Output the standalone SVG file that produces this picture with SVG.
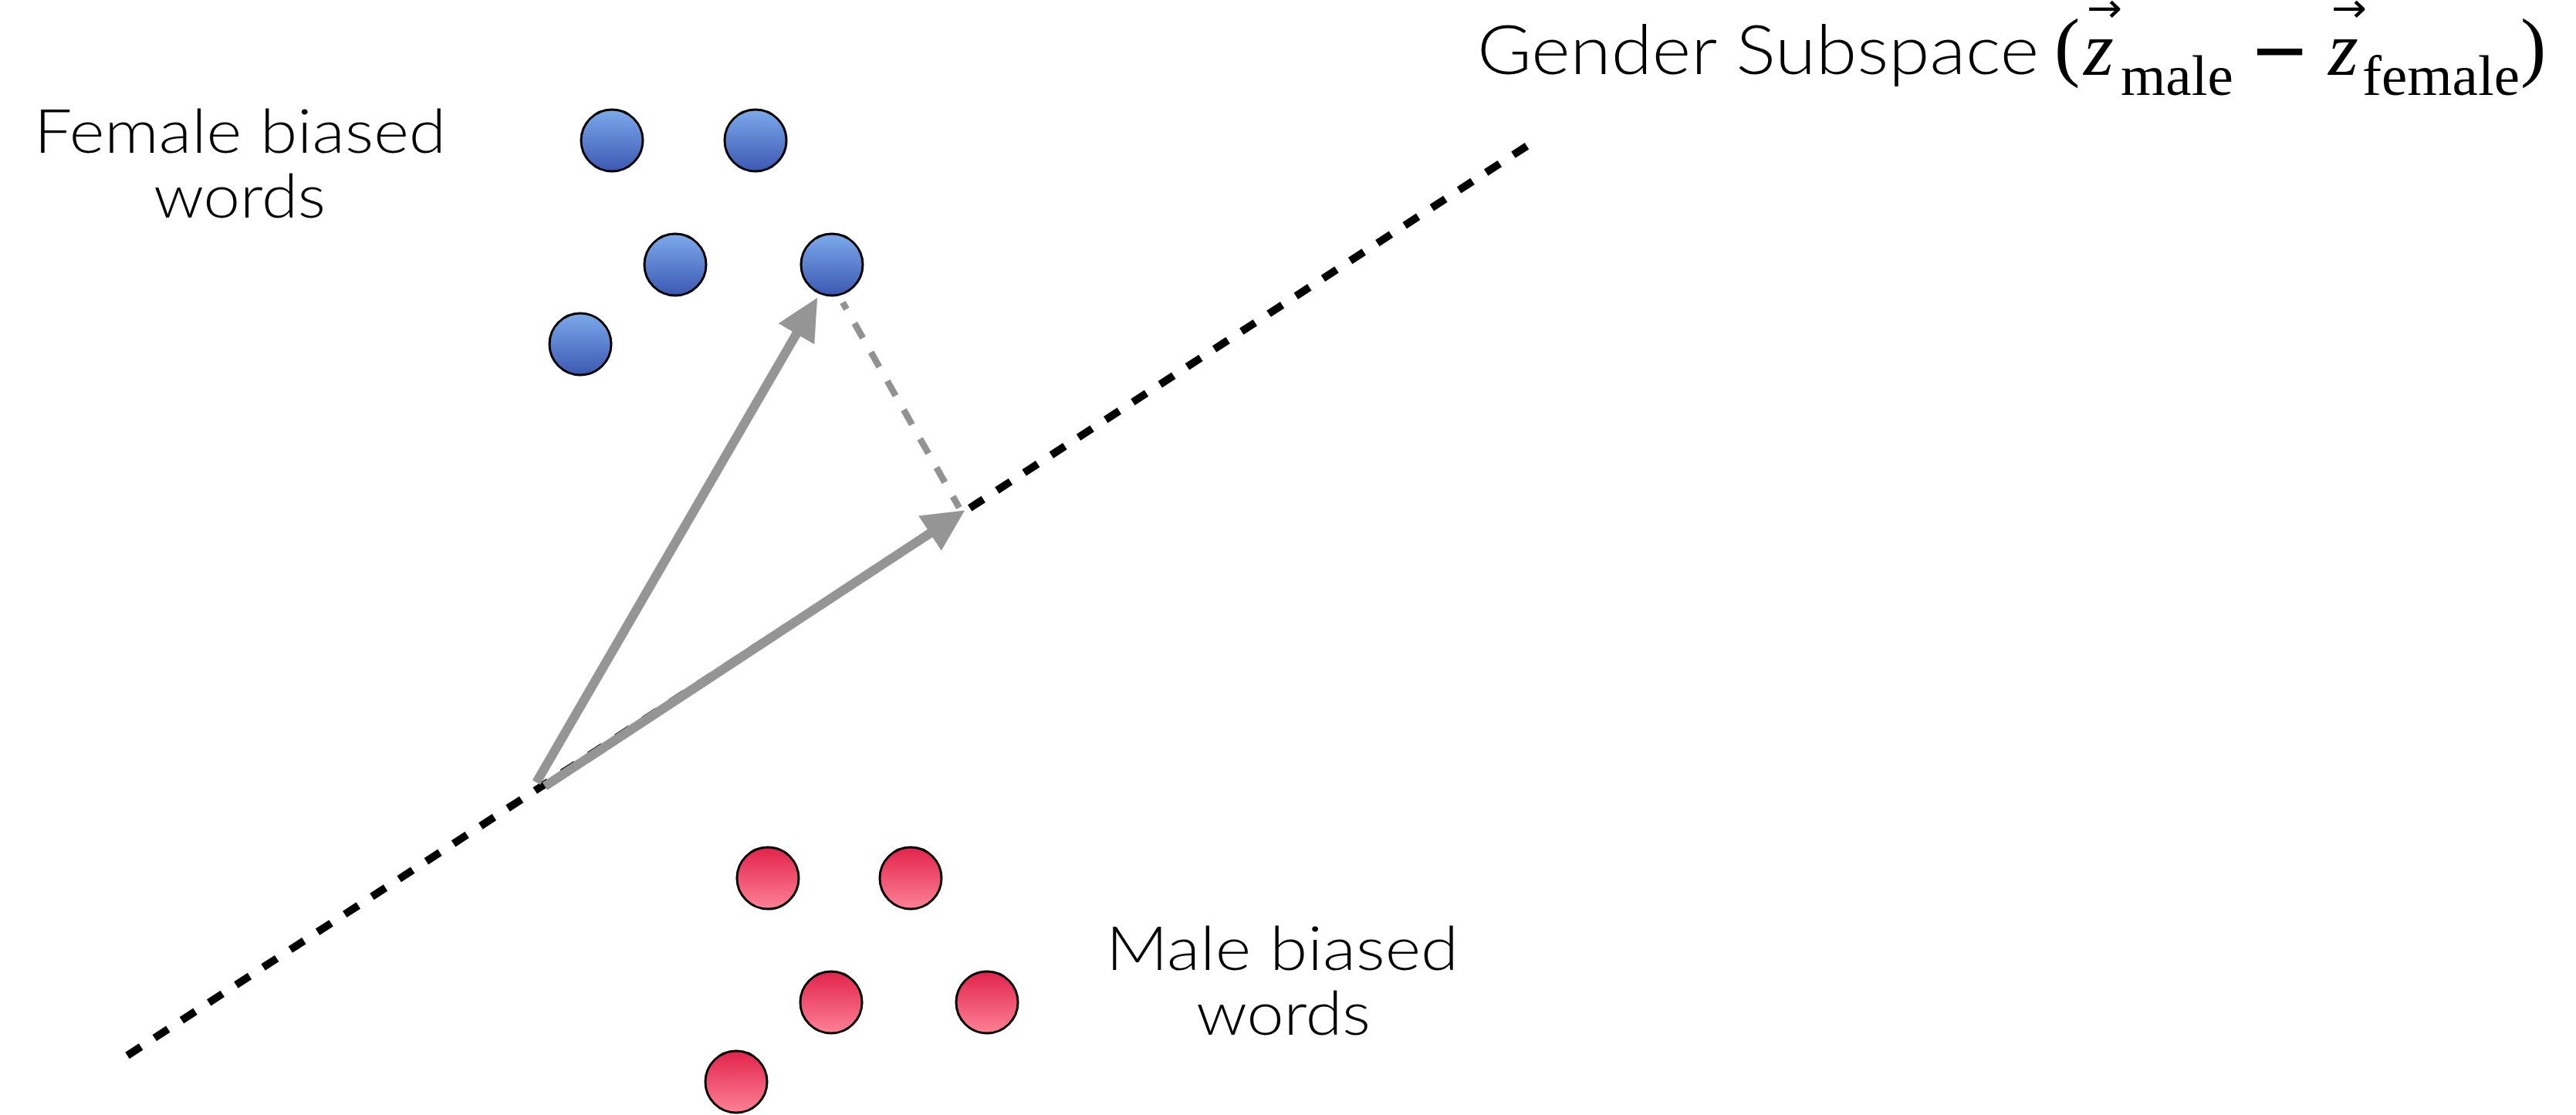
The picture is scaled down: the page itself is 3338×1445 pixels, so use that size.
<svg xmlns="http://www.w3.org/2000/svg" width="3338" height="1445" viewBox="0 0 3338 1445">
  <style>
    .label { font-family: Lato, "Open Sans", "Liberation Sans", sans-serif; font-weight: 300; font-size: 78px; fill: #000; }
    .title { font-family: Lato, "Open Sans", "Liberation Sans", sans-serif; font-weight: 300; font-size: 88px; fill: #000; }
    .math { font-family: "Liberation Serif", "Times New Roman", serif; fill: #000; }
    .paren { font-size: 100px; }
    .mi { font-style: italic; font-size: 100px; }
    .sub { font-size: 75px; }
    .accent { font-family: "DejaVu Sans", sans-serif; font-size: 52px; fill: #000; }
    .minus { font-family: "Liberation Sans", Arial, sans-serif; font-size: 120px; fill: #000; }
    .female { fill: url(#gradFemale); stroke: #000; stroke-width: 3; }
    .male { fill: url(#gradMale); stroke: #000; stroke-width: 3; }
    .axis { fill: none; stroke: #000; stroke-width: 10; stroke-dasharray: 21 21; }
    .vec { fill: none; stroke: #959595; stroke-width: 12; marker-end: url(#head); }
    .proj { fill: none; stroke: #929292; stroke-width: 8.5; stroke-dasharray: 22 21; stroke-dashoffset: 12; }
  </style>
  <defs>
    <linearGradient id="gradFemale" x1="0" y1="0" x2="0" y2="1">
      <stop offset="0" stop-color="#7caaeb"/>
      <stop offset="1" stop-color="#3c58b2"/>
    </linearGradient>
    <linearGradient id="gradMale" x1="0" y1="0" x2="0" y2="1">
      <stop offset="0" stop-color="#e2234c"/>
      <stop offset="1" stop-color="#fd8194"/>
    </linearGradient>
    <marker id="head" markerUnits="userSpaceOnUse" markerWidth="54" markerHeight="54" viewBox="0 0 54 54" refX="24" refY="27" orient="auto">
      <path d="M0,0 L54,27 L0,54 Z" fill="#959595"/>
    </marker>
  </defs>

  <rect width="3338" height="1445" fill="#fff"/>

  <!-- connectors: subspace axis, embedding vector, its projection -->
  <g id="connectors">
    <line id="gender-axis" class="axis" x1="165" y1="1368" x2="1985" y2="185"/>
    <line id="vec-word" class="vec" x1="695" y1="1014" x2="1044" y2="412"/>
    <line id="vec-projection" class="vec" x1="706" y1="1019" x2="1225" y2="678"/>
    <line id="proj-drop" class="proj" x1="1092" y1="392" x2="1243" y2="658"/>
  </g>

  <!-- female-biased word embeddings -->
  <g id="female-1"><circle class="female" cx="793" cy="182" r="40"/></g>
  <g id="female-2"><circle class="female" cx="979" cy="182" r="40"/></g>
  <g id="female-3"><circle class="female" cx="875" cy="343" r="40"/></g>
  <g id="female-4"><circle class="female" cx="1078" cy="343" r="40"/></g>
  <g id="female-5"><circle class="female" cx="752" cy="446" r="40"/></g>

  <!-- male-biased word embeddings -->
  <g id="male-1"><circle class="male" cx="995" cy="1138" r="40"/></g>
  <g id="male-2"><circle class="male" cx="1180" cy="1138" r="40"/></g>
  <g id="male-3"><circle class="male" cx="1077" cy="1299" r="40"/></g>
  <g id="male-4"><circle class="male" cx="1279" cy="1299" r="40"/></g>
  <g id="male-5"><circle class="male" cx="954" cy="1402" r="40"/></g>

  <!-- cluster labels -->
  <g id="label-female">
    <text class="label" x="44" y="198" textLength="534" lengthAdjust="spacingAndGlyphs">Female biased</text>
    <text class="label" x="199" y="282" textLength="223" lengthAdjust="spacingAndGlyphs">words</text>
  </g>
  <g id="label-male">
    <text class="label" x="1433" y="1257" textLength="457" lengthAdjust="spacingAndGlyphs">Male biased</text>
    <text class="label" x="1550" y="1341" textLength="226" lengthAdjust="spacingAndGlyphs">words</text>
  </g>

  <!-- axis title with difference vector -->
  <g id="label-axis">
    <text class="title" x="1914" y="96" textLength="728" lengthAdjust="spacingAndGlyphs">Gender Subspace</text>
    <text class="math paren" x="2662" y="93">(</text>
    <text class="math mi" x="2700" y="97">z</text>
    <text class="accent" x="2704" y="28" textLength="46" lengthAdjust="spacingAndGlyphs">→</text>
    <text class="math sub" x="2748" y="123">male</text>
    <text class="minus" x="2919" y="107">−</text>
    <text class="math mi" x="3017" y="97">z</text>
    <text class="accent" x="3021" y="28" textLength="46" lengthAdjust="spacingAndGlyphs">→</text>
    <text class="math sub" x="3061" y="123">female</text>
    <text class="math paren" x="3266" y="93">)</text>
  </g>
</svg>
